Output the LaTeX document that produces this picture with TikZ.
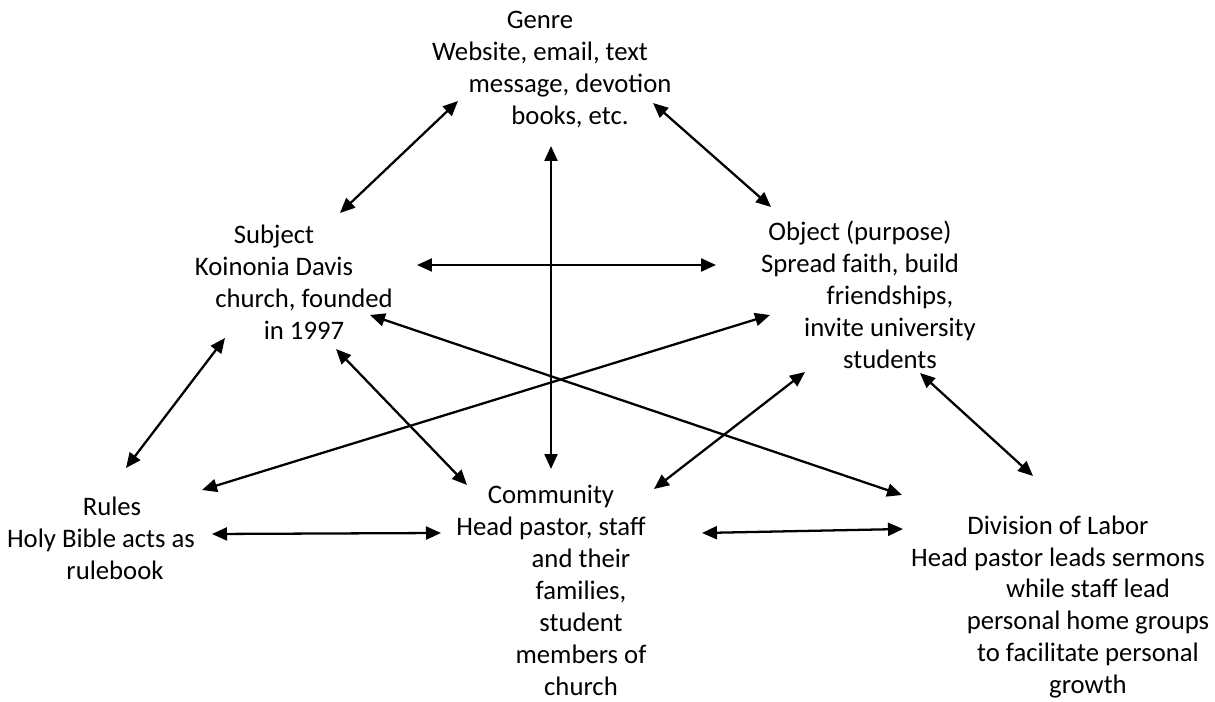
\documentclass[tikz,border=0pt]{standalone}
\usepackage{fontspec}
\setmainfont{Carlito}
\usepackage{tikz}
\usetikzlibrary{arrows.meta}

% continuation lines of the boxes are pushed right
\newcommand{\wrapin}{\hspace*{1.2cm}}

\tikzset{
    box/.style={align=center, inner sep=0pt, font=\fontsize{15.2pt}{18.2pt}\selectfont},
    link/.style={line width=1.3pt, {Triangle[length=3mm,width=2.6mm]}-{Triangle[length=3mm,width=2.6mm]}}
}

\begin{document}
\begin{tikzpicture}[x=0.02cm, y=-0.02cm]
    \useasboundingbox (0,0) rectangle (1215,702);

    \node[box] (genre) at (540,70) {Genre\\Website, email, text\\\wrapin message, devotion\\\wrapin books, etc.};
    \node[box] (subject) at (274,282) {Subject\\Koinonia Davis\\\wrapin church, founded\\\wrapin in 1997};
    \node[box] (object) at (860,295) {Object (purpose)\\Spread faith, build\\\wrapin friendships,\\\wrapin invite university\\\wrapin students};
    \node[box] (rules) at (101,538) {\hspace*{0.44cm}Rules\\Holy Bible acts as\\\hspace*{0.56cm}rulebook};
    \node[box] (community) at (551,590) {Community\\Head pastor, staff\\\wrapin and their\\\wrapin families,\\\wrapin student\\\wrapin members of\\\wrapin church};
    \node[box] (labor) at (1058,607) {Division of Labor\\Head pastor leads sermons\\\wrapin while staff lead\\\wrapin personal home groups\\\wrapin to facilitate personal\\\wrapin growth};

    % arrow ends
    \coordinate (g1) at (458,101);
    \coordinate (g2) at (653,103);
    \coordinate (g3) at (551,146);
    \coordinate (s1) at (340,213);
    \coordinate (s2) at (417,265);
    \coordinate (s3) at (225,338);
    \coordinate (s4) at (336,349);
    \coordinate (s5) at (370,315);
    \coordinate (o1) at (771,207);
    \coordinate (o2) at (716,265);
    \coordinate (o3) at (770,315);
    \coordinate (o4) at (805,372);
    \coordinate (o5) at (920,373);
    \coordinate (r1) at (126,468);
    \coordinate (r2) at (202,490);
    \coordinate (r3) at (212,534);
    \coordinate (c1) at (551,469);
    \coordinate (c2) at (467,485);
    \coordinate (c3) at (654,489);
    \coordinate (c4) at (441,533);
    \coordinate (c5) at (702,533);
    \coordinate (d1) at (902,495);
    \coordinate (d2) at (1033,476);
    \coordinate (d3) at (903,529);

    \draw[link] (g1) -- (s1);
    \draw[link] (g2) -- (o1);
    \draw[link] (g3) -- (c1);
    \draw[link] (s2) -- (o2);
    \draw[link] (s3) -- (r1);
    \draw[link] (s4) -- (c2);
    \draw[link] (s5) -- (d1);
    \draw[link] (o3) -- (r2);
    \draw[link] (o4) -- (c3);
    \draw[link] (o5) -- (d2);
    \draw[link] (r3) -- (c4);
    \draw[link] (c5) -- (d3);
\end{tikzpicture}
\end{document}
